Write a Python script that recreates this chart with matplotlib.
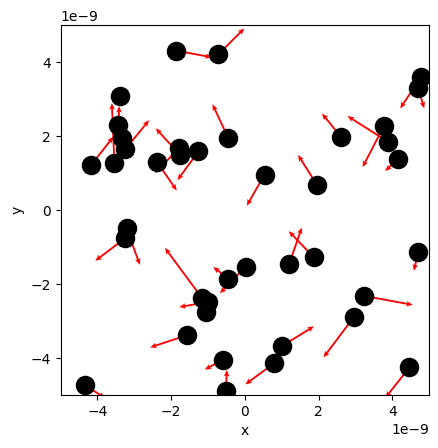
import numpy as np
import matplotlib
matplotlib.use("Agg")
import matplotlib.pyplot as plt

# particle positions (units of 1e-9)
px = [-1.87, -0.72, -3.39, -3.43, -3.34, -3.25, -4.17, -3.54, -2.39, -1.78,
      -1.76, -1.26, -0.45, -3.21, -3.25, -1.17, -0.99, -1.06, -0.45, 0.02,
      -1.57, -0.59, -0.52, -4.34, 1.20, 1.87, 4.70, 3.23, 2.96, 1.01,
      0.80, 4.46, 4.77, 4.70, 3.77, 3.88, 4.16, 2.61, 0.53, 1.96]
py = [4.31, 4.21, 3.08, 2.30, 1.94, 1.64, 1.22, 1.28, 1.31, 1.68,
      1.49, 1.59, 1.94, -0.49, -0.76, -2.37, -2.48, -2.76, -1.85, -1.53,
      -3.38, -4.04, -4.88, -4.73, -1.46, -1.28, -1.13, -2.32, -2.88, -3.67,
      -4.13, -4.25, 3.59, 3.29, 2.28, 1.85, 1.37, 1.97, 0.96, 0.67]
# velocity arrows (units of 1e-9)
vu = [0.97, 0.70, 0.15, 0.02, 0.10, 0.65, 0.60, -0.07, 0.54, -0.66,
      -0.66, -0.57, -0.43, 0.36, -0.81, -1.00, -0.79, 0.10, -0.41, -0.70,
      -1.00, -0.50, 0.03, 0.55, 0.34, -0.68, -0.12, 1.32, -0.83, 0.86,
      -0.79, -0.65, -0.56, 0.16, -0.58, -1.10, -0.36, -0.52, -0.48, -0.52]
vv = [-0.18, 0.70, -0.20, 0.51, 0.10, 0.79, 0.76, 1.61, -0.78, -0.68,
      0.72, -0.78, 0.92, -0.99, -0.61, 1.35, -0.14, -0.10, 0.31, -0.72,
      -0.33, -0.27, 0.56, -0.35, 0.99, 0.71, -0.51, -0.24, -1.10, 0.53,
      -0.58, -0.82, -0.84, -0.54, -1.12, 0.69, -0.31, 0.64, -0.84, 0.82]

x = np.array(px) * 1e-9
y = np.array(py) * 1e-9
u = np.array(vu) * 1e-9
v = np.array(vv) * 1e-9

fig = plt.figure(figsize=(4.39, 4.48), dpi=100)
ax = fig.add_axes([0.138, 0.118, 0.840, 0.826])
ax.quiver(x, y, u, v, color='red', angles='xy', scale_units='xy', scale=1,
          width=0.005, headwidth=3, headlength=3.5, headaxislength=3, zorder=1)
ax.scatter(x, y, s=170, color='black', zorder=2)
ax.set_xlim(-5e-9, 5e-9)
ax.set_ylim(-5e-9, 5e-9)
ax.set_xlabel("x")
ax.set_ylabel("y")

fig.savefig("out.png", dpi=100)
